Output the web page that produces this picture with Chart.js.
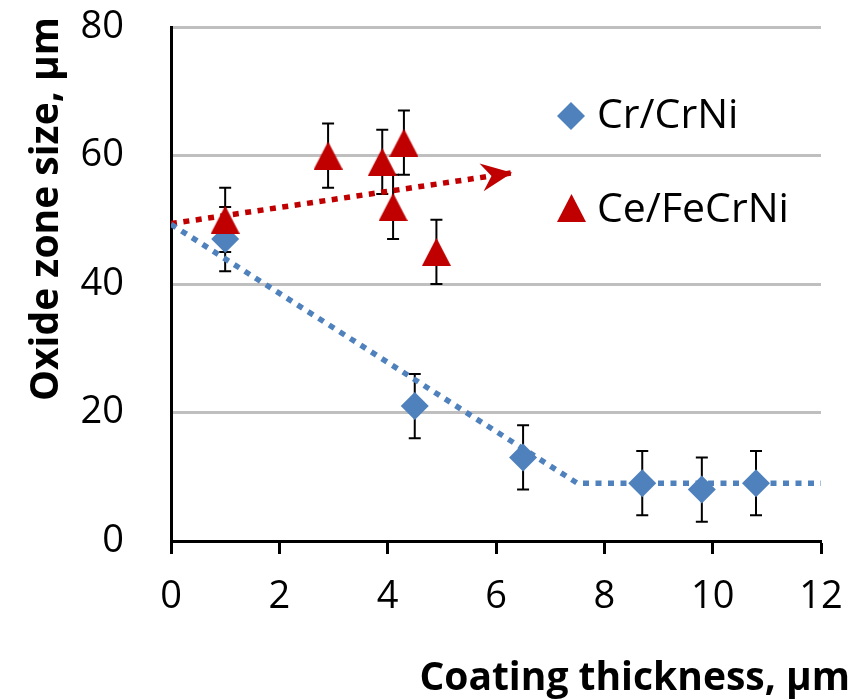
<!DOCTYPE html>
<html>
<head>
<meta charset="utf-8">
<script src="https://cdn.jsdelivr.net/npm/chart.js@4.4.1/dist/chart.umd.min.js"></script>
<style>
  html, body { margin: 0; padding: 0; background: #fff; }
  #oxide-chart { display: block; }
</style>
</head>
<body>
<canvas id="oxide-chart" width="854" height="700"></canvas>
<script>
const xTicks = [0, 2, 4, 6, 8, 10, 12];
const yTicks = [0, 20, 40, 60, 80];

const crThickness = [1, 4.5, 6.5, 8.7, 9.8, 10.8];
const crOxide = [47, 21, 13, 9, 8, 9];
const crError = [5, 5, 5, 5, 5, 5];

const ceThickness = [1, 2.9, 3.9, 4.1, 4.3, 4.9];
const ceOxide = [50, 60, 59, 52, 62, 45];
const ceError = [5, 5, 5, 5, 5, 5];

// guide lines drawn by hand over the measurements
const crTrendX = [0, 7.5, 12];
const crTrendY = [49.3, 9, 9];
const ceTrendX = [0, 6.3];
const ceTrendY = [49.4, 57.3];

const BLUE = '#4f81bd';
const RED = '#c00000';
const FONT = '"Open Sans", Lato, sans-serif';

const toPoints = (xs, ys) => xs.map((x, i) => ({ x: x, y: ys[i] }));

const makeTriangle = (w, h, color) => {
  const c = document.createElement('canvas');
  c.width = w;
  c.height = h;
  const g = c.getContext('2d');
  g.fillStyle = color;
  g.beginPath();
  g.moveTo(w / 2, 0);
  g.lineTo(w, h);
  g.lineTo(0, h);
  g.closePath();
  g.fill();
  return c;
};

const triangle = makeTriangle(29, 28, RED);

// vertical error bars with caps, under the markers
const errorBars = {
  id: 'errorBars',
  beforeDatasetsDraw(chart) {
    const { ctx, scales } = chart;
    ctx.save();
    ctx.strokeStyle = '#000';
    ctx.lineWidth = 2;
    chart.data.datasets.forEach((ds) => {
      if (!ds.errors) return;
      ds.data.forEach((p, i) => {
        const x = scales.x.getPixelForValue(p.x);
        const top = scales.y.getPixelForValue(p.y + ds.errors[i]);
        const bottom = scales.y.getPixelForValue(p.y - ds.errors[i]);
        ctx.beginPath();
        ctx.moveTo(x, top);
        ctx.lineTo(x, bottom);
        ctx.moveTo(x - 6, top);
        ctx.lineTo(x + 6, top);
        ctx.moveTo(x - 6, bottom);
        ctx.lineTo(x + 6, bottom);
        ctx.stroke();
      });
    });
    ctx.restore();
  },
};

// arrow head at the end of the Ce/FeCrNi guide
const arrowHead = {
  id: 'arrowHead',
  afterDatasetsDraw(chart) {
    const { ctx } = chart;
    const idx = chart.data.datasets.findIndex((ds) => ds.arrow);
    if (idx < 0) return;
    const pts = chart.getDatasetMeta(idx).data;
    const a = pts[pts.length - 2];
    const b = pts[pts.length - 1];
    const ang = Math.atan2(b.y - a.y, b.x - a.x);
    ctx.save();
    ctx.translate(b.x, b.y);
    ctx.rotate(ang);
    ctx.fillStyle = RED;
    ctx.beginPath();
    ctx.moveTo(0, 0);
    ctx.lineTo(-31, -14);
    ctx.lineTo(-21, 0);
    ctx.lineTo(-31, 14);
    ctx.closePath();
    ctx.fill();
    ctx.restore();
  },
};

const legendBox = {
  id: 'legendBox',
  afterDraw(chart) {
    const { ctx } = chart;
    ctx.save();
    ctx.fillStyle = BLUE;
    ctx.beginPath();
    ctx.moveTo(571, 102);
    ctx.lineTo(585, 116);
    ctx.lineTo(571, 130);
    ctx.lineTo(557, 116);
    ctx.closePath();
    ctx.fill();
    ctx.drawImage(triangle, 557, 194);
    ctx.fillStyle = '#000';
    ctx.font = '41px ' + FONT;
    ctx.textBaseline = 'alphabetic';
    ctx.fillText('Cr/CrNi', 597, 128);
    ctx.fillText('Ce/FeCrNi', 597, 222);
    ctx.restore();
  },
};

const axisTitles = {
  id: 'axisTitles',
  afterDraw(chart) {
    const { ctx } = chart;
    ctx.save();
    ctx.fillStyle = '#000';
    ctx.font = 'bold 39px ' + FONT;
    ctx.textAlign = 'right';
    ctx.textBaseline = 'alphabetic';
    ctx.fillText('Coating thickness, \u00b5m', 850, 690);
    ctx.translate(58, 209);
    ctx.rotate(-Math.PI / 2);
    ctx.textAlign = 'center';
    ctx.fillText('Oxide zone size, \u00b5m', 0, 0);
    ctx.restore();
  },
};

new Chart(document.getElementById('oxide-chart'), {
  type: 'scatter',
  data: {
    datasets: [
      {
        label: 'Cr/CrNi trend',
        data: toPoints(crTrendX, crTrendY),
        showLine: true,
        borderColor: BLUE,
        borderWidth: 5.5,
        borderDash: [6, 6.5],
        borderCapStyle: 'butt',
        pointRadius: 0,
      },
      {
        label: 'Ce/FeCrNi trend',
        data: toPoints(ceTrendX, ceTrendY),
        showLine: true,
        arrow: true,
        borderColor: RED,
        borderWidth: 5.5,
        borderDash: [6, 6.5],
        borderCapStyle: 'butt',
        pointRadius: 0,
      },
      {
        label: 'Ce/FeCrNi',
        data: toPoints(ceThickness, ceOxide),
        errors: ceError,
        pointStyle: triangle,
        backgroundColor: RED,
        borderWidth: 0,
      },
      {
        label: 'Cr/CrNi',
        data: toPoints(crThickness, crOxide),
        errors: crError,
        pointStyle: 'rectRot',
        pointRadius: 14,
        backgroundColor: BLUE,
        borderWidth: 0,
      },
    ],
  },
  options: {
    responsive: false,
    animation: false,
    layout: {
      padding: { top: 27, right: 33, left: 0, bottom: 0 },
    },
    plugins: {
      legend: { display: false },
      tooltip: { enabled: false },
    },
    scales: {
      x: {
        type: 'linear',
        min: xTicks[0],
        max: xTicks[xTicks.length - 1],
        afterBuildTicks: (scale) => {
          scale.ticks = xTicks.map((v) => ({ value: v }));
        },
        afterFit: (scale) => {
          scale.height = 159;
          scale.paddingLeft = 0;
          scale.paddingRight = 0;
        },
        ticks: {
          color: '#000',
          padding: 20,
          font: { family: FONT, size: 38 },
        },
        grid: {
          drawOnChartArea: false,
          tickLength: 13,
          tickColor: '#000',
          tickWidth: 3,
        },
        border: { color: '#000', width: 3 },
      },
      y: {
        type: 'linear',
        min: yTicks[0],
        max: yTicks[yTicks.length - 1],
        afterBuildTicks: (scale) => {
          scale.ticks = yTicks.map((v) => ({ value: v }));
        },
        afterFit: (scale) => {
          scale.width = 171;
          scale.paddingTop = 0;
          scale.paddingBottom = 0;
        },
        ticks: {
          color: '#000',
          padding: 47,
          font: { family: FONT, size: 38 },
        },
        grid: {
          color: (ctx) => (ctx.tick && ctx.tick.value === 0 ? 'rgba(0,0,0,0)' : '#bfbfbf'),
          lineWidth: 3,
          drawTicks: false,
        },
        border: { color: '#000', width: 3 },
      },
    },
  },
  plugins: [errorBars, arrowHead, legendBox, axisTitles],
});
</script>
</body>
</html>
